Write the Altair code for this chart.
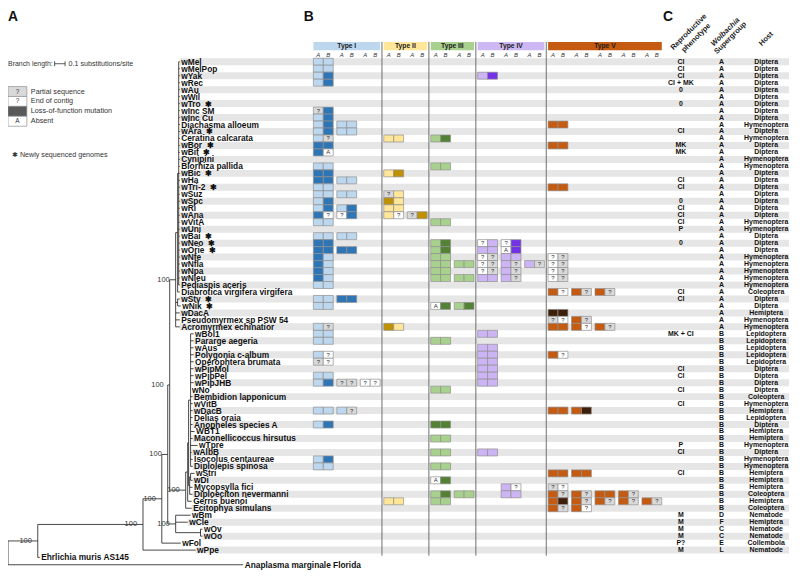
import altair as alt
import pandas as pd

# ---------------- data ----------------
TAXA = ["wMel", "wMelPop", "wYak", "wRec", "wAu", "wWil", "wTro", "wInc SM", "wInc Cu",
        "Diachasma alloeum", "wAra", "Ceratina calcarata", "wBor", "wBif", "Cynipini",
        "Biorhiza pallida", "wBic", "wHa", "wTri-2", "wSuz", "wSpc", "wRi", "wAna", "wVitA",
        "wUni", "wBai", "wNeo", "wOrie", "wNfe", "wNfla", "wNpa", "wNleu", "Pediaspis aceris",
        "Diabrotica virgifera virgifera", "wStv", "wNik", "wDacA", "Pseudomyrmex sp PSW 54",
        "Acromyrmex echinatior", "wBol1", "Pararge aegeria", "wAus", "Polygonia c-album",
        "Operophtera brumata", "wPipMol", "wPipPel", "wPipJHB", "wNo", "Bembidion lapponicum",
        "wVitB", "wDacB", "Delias oraia", "Anopheles species A", "WBT1",
        "Maconellicoccus hirsutus", "wTpre", "wAlbB", "Isocolus centaureae",
        "Diplolepis spinosa", "wStri", "wDi", "Mycopsylla fici", "Diploeciton nevermanni",
        "Gerris buenoi", "Ecitophya simulans", "wBm", "wCle", "wOv", "wOo", "wFol", "wPpe"]
NEW_GENOMES = ["wTro", "wAra", "wBor", "wBif", "wBic", "wTri-2", "wBai", "wNeo", "wOrie",
               "wStv", "wNik"]
PHENOTYPE = ["CI", "CI", "CI", "CI + MK", "0", "", "0", "", "", "", "CI", "", "MK", "MK", "",
             "", "", "CI", "CI", "", "0", "CI", "CI", "CI", "P", "", "0", "", "", "", "", "",
             "", "CI", "CI", "", "", "", "", "MK + CI", "", "", "", "", "CI", "CI", "", "CI",
             "", "CI", "", "", "", "", "", "P", "CI", "", "", "CI", "", "", "", "", "",
             "M", "M", "M", "M", "P?", "M"]
SUPERGROUP = ["A"] * 39 + ["B"] * 26 + ["D", "F", "C", "C", "E", "L"]
HOST = (["Diptera"] * 9 + ["Hymenoptera", "Diptera", "Hymenoptera", "Diptera", "Diptera",
         "Hymenoptera", "Hymenoptera"] + ["Diptera"] * 7 + ["Hymenoptera"] * 2
        + ["Diptera"] * 3 + ["Hymenoptera"] * 5 + ["Coleoptera", "Diptera", "Diptera",
        "Hemiptera", "Hymenoptera", "Hymenoptera"] + ["Lepidoptera"] * 5 + ["Diptera"] * 4
        + ["Coleoptera", "Hymenoptera", "Hemiptera", "Lepidoptera", "Diptera", "Hemiptera",
           "Hemiptera", "Hymenoptera", "Diptera", "Hymenoptera", "Hymenoptera", "Hemiptera",
           "Hemiptera", "Hemiptera", "Coleoptera", "Hemiptera", "Coleoptera", "Nematode",
           "Hemiptera", "Nematode", "Nematode", "Collembola", "Nematode"])

GENE_TYPES = ["Type I", "Type II", "Type III", "Type IV", "Type V"]
TYPE_PAIRS = [3, 2, 2, 3, 5]
# per taxon: "pair:AB" with L=present, D=loss-of-function, P=partial, E=end of contig, X=absent
GENE_CELLS = [
    "0:LL", "0:LL", "0:LD 7:LD", "0:LD", "", "", "", "0:PD", "0:LD",
    "0:LD 1:LL 10:LL", "0:LD 1:LL", "0:LP 3:LL 5:LD", "0:DD 10:LL", "0:DX", "",
    "0:LL 5:LL", "0:DD 3:LD", "0:DD 1:LL", "0:LL 10:LL", "0:LL 1:LL 3:PL", "0:LD 3:DL",
    "0:LD 1:LD 3:LL", "0:DE 1:ED 3:LE 4:PD", "0:LL 5:LL", "", "0:LL 1:LL",
    "0:DD 5:LD 7:EL 8:ED", "0:DD 1:DD 5:LD 7:LL 8:XD", "0:DL 5:LL 7:EP 8:LL 10:EP",
    "0:DL 5:LL 6:LL 7:EP 8:LP 9:LP 10:EP", "0:DL 5:LL 7:EP 8:LP 10:EP",
    "0:DL 5:LL 6:LL 7:LL 8:LP 10:EP", "0:LL", "10:LE 11:LP 12:LP", "0:LL 1:DD",
    "0:LL 5:XD 6:LD", "10:DD", "10:PE 11:LP", "0:LP 3:DL 10:LL 11:LE 12:LP",
    "0:LL 7:LL", "0:LL 5:LL", "7:LL", "0:LE 7:LL 10:LE", "0:PE 7:LL", "7:LL",
    "0:LL 7:LL", "0:LD 1:PP 2:EE 7:LL", "5:LL", "", "", "0:LL 1:LP 10:LL 11:LD", "",
    "0:LD 5:DD", "", "5:LL", "", "5:LL 7:LL", "0:LD", "0:LL 5:LL", "10:LL 11:LL", "5:XD",
    "8:LE 10:PE", "5:LD 6:LL 8:LL 10:LP 11:LP 12:LL 13:LP",
    "3:LL 5:LL 10:LD 11:LP 12:LP 13:LP 14:LP", "10:LP 11:LE", "", "", "", "", "", ""]

OUTGROUPS = ["Ehrlichia muris AS145", "Anaplasma marginale Florida"]
OUTGROUP_ROWS = [72.05, 73.1]

# tree: internal node = {"d": depth (subst./site), "bs": support, "c": children}; tip = (name, depth)
A_SPINE = [(t, 1.645) for t in TAXA[:33]]
B_SPINE = ([(t, 1.778) for t in TAXA[39:47]]
           + [("wNo", 1.749), ("Bembidion lapponicum", 1.768), ("wVitB", 1.768),
              ("wDacB", 1.768), ("Delias oraia", 1.768), ("Anopheles species A", 1.768),
              ("WBT1", 1.787), ("Maconellicoccus hirsutus", 1.768), ("wTpre", 1.816),
              ("wAlbB", 1.759), ("Isocolus centaureae", 1.768), ("Diplolepis spinosa", 1.768)])
A_CLADE = {"d": 1.606, "bs": "100", "c": [
    {"d": 1.625, "c": [{"d": 1.635, "c": A_SPINE}, ("Diabrotica virgifera virgifera", 1.645)]},
    {"d": 1.625, "c": [("wStv", 1.645), ("wNik", 1.654)]},
    ("wDacA", 1.645), ("Pseudomyrmex sp PSW 54", 1.645), ("Acromyrmex echinatior", 1.645)]}
B_CLADE = {"d": 1.702, "bs": "100", "c": [
    {"d": 1.721, "c": [
        {"d": 1.730, "c": [
            {"d": 1.749, "c": B_SPINE},
            {"d": 1.740, "c": [{"d": 1.749, "c": [("wStri", 1.787), ("wDi", 1.768)]},
                               ("Mycopsylla fici", 1.768), ("Diploeciton nevermanni", 1.768)]}]},
        ("Gerris buenoi", 1.759)]},
    ("Ecitophya simulans", 1.759)]}
DFC_CLADE = {"d": 1.606, "bs": "100", "c": [
    ("wBm", 1.749), ("wCle", 1.721), {"d": 1.844, "c": [("wOv", 1.863), ("wOo", 1.863)]}]}
TREE = {"d": 0.0, "c": [
    {"d": 0.285, "bs": "100", "c": [
        {"d": 1.293, "bs": "100", "c": [
            {"d": 1.473, "bs": "100", "c": [
                {"d": 1.530, "bs": "100", "c": [
                    {"d": 1.549, "bs": "100", "c": [A_CLADE, B_CLADE]},
                    DFC_CLADE]},
                ("wFol", 1.654)]},
            ("wPpe", 1.797)]},
        ("Ehrlichia muris AS145", 0.304)]},
    ("Anaplasma marginale Florida", 2.253)]}

LEGEND_LABELS = ["Partial sequence", "End of contig", "Loss-of-function mutation", "Absent"]
LEGEND_MARKS = ["?", "?", "", "A"]
LEGEND_STATES = ["P", "E", "G", "X"]

# ---------------- styles ----------------
FONT = "Liberation Sans"
W, H = 790, 564
TREE_PX = 105.2
ROW_PX = 7.03
ROW1 = 52.0
TX = alt.Scale(domain=[0, 1], range=[0, TREE_PX], nice=False, zero=False)
RY = alt.Scale(domain=[0.5, 71.5], range=[ROW1 - ROW_PX / 2, ROW1 + 70.5 * ROW_PX],
               nice=False, zero=False)
PAIR_PX = 23.65
CELL_W = 10 / PAIR_PX
CX = alt.Scale(domain=[0, 1], range=[307.7, 307.7 + PAIR_PX], nice=False, zero=False)

TYPE_HEAD = ["#bdd7ee", "#ffe699", "#a9d18e", "#cdb8f4", "#c55a11"]
LIGHT = ["#bdd7ee", "#ffe699", "#a9d18e", "#cdb5f5", "#c55a11"]
DARK = ["#2e75b6", "#bf9000", "#548235", "#7432e8", "#3d1f0a"]
STATE_FILL = {"P": "#d9d9d9", "E": "#ffffff", "X": "#ffffff", "G": "#595959"}

# ---------------- derived tables ----------------
rows = {n: i + 1 for i, n in enumerate(TAXA)}
rows.update(dict(zip(OUTGROUPS, OUTGROUP_ROWS)))
segs, tips, sups = [], [], []


def walk(n):
    if isinstance(n, tuple):
        name, d = n
        tips.append({"name": name, "d": d, "y": rows[name]})
        return d, rows[name]
    ys = []
    for c in n["c"]:
        cd, cy = walk(c)
        segs.append({"x": n["d"], "x2": cd, "y": cy, "y2": cy})
        ys.append(cy)
    y = (min(ys) + max(ys)) / 2
    segs.append({"x": n["d"], "x2": n["d"], "y": min(ys), "y2": max(ys)})
    if n.get("bs"):
        sups.append({"d": n["d"], "y": y, "t": n["bs"]})
    return n["d"], y


walk(TREE)
seg_df = pd.DataFrame(segs)
tip_df = pd.DataFrame(tips)
tip_df["label"] = [n + ("\u00a0\u00a0\u2731" if n in NEW_GENOMES else "") for n in tip_df["name"]]
sup_df = pd.DataFrame(sups)
stripe_df = tip_df[tip_df["name"].isin(TAXA)].copy()
stripe_df = stripe_df[(stripe_df["y"] % 2) == 1]
stripe_df["y0"] = stripe_df["y"] - 0.5
stripe_df["y1"] = stripe_df["y"] + 0.5

type_of_pair = []
for ti, n in enumerate(TYPE_PAIRS):
    type_of_pair += [ti] * n

cells = []
for r, codes in enumerate(GENE_CELLS, start=1):
    for code in codes.split():
        p, st = code.split(":")
        p = int(p)
        ti = type_of_pair[p]
        for s, ch in enumerate(st):
            fill = LIGHT[ti] if ch == "L" else DARK[ti] if ch == "D" else STATE_FILL[ch]
            txt = "?" if ch in "PE" else ("A" if ch == "X" else "")
            cells.append({"x": p + s * CELL_W, "x2": p + (s + 1) * CELL_W,
                          "y": r - 0.5, "y2": r + 0.5, "fill": fill, "txt": txt,
                          "xc": p + (s + 0.5) * CELL_W, "yc": r})
cell_df = pd.DataFrame(cells)

heads, subs, seps = [], [], []
start = 0
for ti, (name, n) in enumerate(zip(GENE_TYPES, TYPE_PAIRS)):
    heads.append({"name": name, "x": start, "x2": start + n - 1 + 2 * CELL_W,
                  "xc": start + (n - 1 + 2 * CELL_W) / 2, "fill": TYPE_HEAD[ti]})
    for p in range(start, start + n):
        subs.append({"x": p + 0.5 * CELL_W, "t": "A"})
        subs.append({"x": p + 1.5 * CELL_W, "t": "B"})
    if ti > 0:
        seps.append({"x": start - (1 - 2 * CELL_W) / 2})
    start += n
head_df, sub_df, sep_df = pd.DataFrame(heads), pd.DataFrame(subs), pd.DataFrame(seps)

colc_df = pd.DataFrame({"y": list(range(1, len(TAXA) + 1)), "ph": PHENOTYPE,
                        "sg": SUPERGROUP, "host": HOST})

leg_df = pd.DataFrame({"i": list(range(4)), "label": LEGEND_LABELS, "mk": LEGEND_MARKS,
                       "fill": [STATE_FILL[s] for s in LEGEND_STATES]})

# ---------------- layers ----------------
X = lambda f, sc: alt.X(f, type="quantitative", scale=sc, axis=None)
Y = lambda f, sc: alt.Y(f, type="quantitative", scale=sc, axis=None)

stripes = alt.Chart(stripe_df).mark_rect(color="#e6e6e6").encode(
    x=X("d", TX), x2=alt.value(787), y=Y("y0", RY), y2="y1")

sep_lines = alt.Chart(sep_df).mark_rule(color="#6e6e6e", strokeWidth=1).encode(
    x=X("x", CX), y=alt.value(32), y2=alt.value(ROW1 + 70.8 * ROW_PX))

cell_rects = alt.Chart(cell_df).mark_rect(stroke="#8f8f8f", strokeWidth=0.7).encode(
    x=X("x", CX), x2="x2", y=Y("y", RY), y2="y2",
    fill=alt.Fill("fill:N", scale=None))
cell_txt = alt.Chart(cell_df[cell_df["txt"] != ""]).mark_text(
    font=FONT, fontSize=6, color="#333333", baseline="middle").encode(
    x=X("xc", CX), y=Y("yc", RY), text="txt:N")

head_rects = alt.Chart(head_df).mark_rect().encode(
    x=X("x", CX), x2="x2", y=alt.value(32), y2=alt.value(40.5),
    fill=alt.Fill("fill:N", scale=None))
head_txt = alt.Chart(head_df).mark_text(
    font=FONT, fontSize=6.8, fontWeight="bold", color="#1a1a1a", baseline="middle").encode(
    x=X("xc", CX), y=alt.value(36.4), text="name:N")
sub_txt = alt.Chart(sub_df).mark_text(
    font=FONT, fontSize=6, fontStyle="italic", color="#333333", baseline="middle").encode(
    x=X("x", CX), y=alt.value(45.0), text="t:N")

tree_lines = alt.Chart(seg_df).mark_rule(color="#262626", strokeWidth=0.85).encode(
    x=X("x", TX), x2="x2", y=Y("y", RY), y2="y2")
tip_txt = alt.Chart(tip_df).mark_text(
    font=FONT, fontSize=8.4, fontWeight="bold", color="#111111", align="left",
    baseline="middle", dx=1.5).encode(
    x=X("d", TX), y=Y("y", RY), text="label:N")
sup_txt = alt.Chart(sup_df).mark_text(
    font=FONT, fontSize=7.5, color="#333333", align="right", baseline="middle",
    dx=-6, dy=0).encode(x=X("d", TX), y=Y("y", RY), text="t:N")

colc = []
for field, px in [("ph", 678), ("sg", 719), ("host", 764)]:
    colc.append(alt.Chart(colc_df).mark_text(
        font=FONT, fontSize=7, fontWeight="bold", color="#111111", baseline="middle").encode(
        x=alt.value(px), y=Y("y", RY), text=f"{field}:N"))

LY = alt.Scale(domain=[0, 1], range=[77, 87], nice=False, zero=False)
leg_boxes = alt.Chart(leg_df).mark_rect(stroke="#8f8f8f", strokeWidth=0.7).encode(
    x=alt.value(0), x2=alt.value(19), y=Y("i", LY), y2=alt.Y2("i2:Q"),
    fill=alt.Fill("fill:N", scale=None)).transform_calculate(i2="datum.i + 1")
leg_marks = alt.Chart(leg_df).mark_text(font=FONT, fontSize=6.5, color="#333333",
                                        baseline="middle").encode(
    x=alt.value(9.5), y=Y("ic", LY), text="mk:N").transform_calculate(ic="datum.i + 0.5")
leg_labels = alt.Chart(leg_df).mark_text(font=FONT, fontSize=7.3, color="#333333",
                                         align="left", baseline="middle").encode(
    x=alt.value(23), y=Y("ic", LY), text="label:N").transform_calculate(ic="datum.i + 0.5")


def deco(text, x, y, size=7.3, weight="normal", style="normal", color="#333333",
         align="left", baseline="middle", angle=0):
    return alt.Chart(pd.DataFrame({"t": [text]})).mark_text(
        font=FONT, fontSize=size, fontWeight=weight, fontStyle=style, color=color,
        align=align, baseline=baseline, angle=angle).encode(
        x=alt.value(x), y=alt.value(y), text="t:N")


bar = alt.Chart(pd.DataFrame({"a": [0]})).mark_rule(color="#333333", strokeWidth=0.8).encode(
    x=alt.value(47), x2=alt.value(47 + 0.1 * TREE_PX), y=alt.value(54))
bar_ends = alt.Chart(pd.DataFrame({"x": [47, 47 + 0.1 * TREE_PX]})).mark_rule(
    color="#333333", strokeWidth=0.8).encode(
    x=alt.X("x:Q", scale=None, axis=None), y=alt.value(51.5), y2=alt.value(56.5))

decos = [
    deco("A", 0, 11, size=14, weight="bold", color="#111111", baseline="alphabetic"),
    deco("B", 298, 11, size=14, weight="bold", color="#111111", baseline="alphabetic"),
    deco("C", 660, 11, size=14, weight="bold", color="#111111", baseline="alphabetic"),
    deco("Branch length:", 0, 54, size=7),
    deco("0.1 substitutions/site", 61, 54, size=7.2),
    deco("\u2731 Newly sequenced genomes", 4, 146, size=7.2),
    deco("Reproductive", 686, 22, size=7.5, weight="bold", color="#222222",
         align="center", angle=315),
    deco("phenotype", 693.5, 28, size=7.5, weight="bold", color="#222222",
         align="center", angle=315),
    deco("Wolbachia", 723, 22, size=7.5, weight="bold", style="italic", color="#222222",
         align="center", angle=315),
    deco("Supergroup", 728, 28, size=7.5, weight="bold", color="#222222",
         align="center", angle=315),
    deco("Host", 764, 29, size=7.5, weight="bold", color="#222222",
         align="center", angle=315),
]

chart = alt.layer(
    stripes, sep_lines, cell_rects, cell_txt, head_rects, head_txt, sub_txt,
    tree_lines, tip_txt, sup_txt, *colc, leg_boxes, leg_marks, leg_labels,
    bar, bar_ends, *decos
).resolve_scale(x="independent", y="independent").properties(
    width=W, height=H, padding=0, autosize=alt.AutoSizeParams(type="none")
).configure_view(stroke=None)

chart.save("out.html", embed_options={"renderer": "svg", "actions": False})
